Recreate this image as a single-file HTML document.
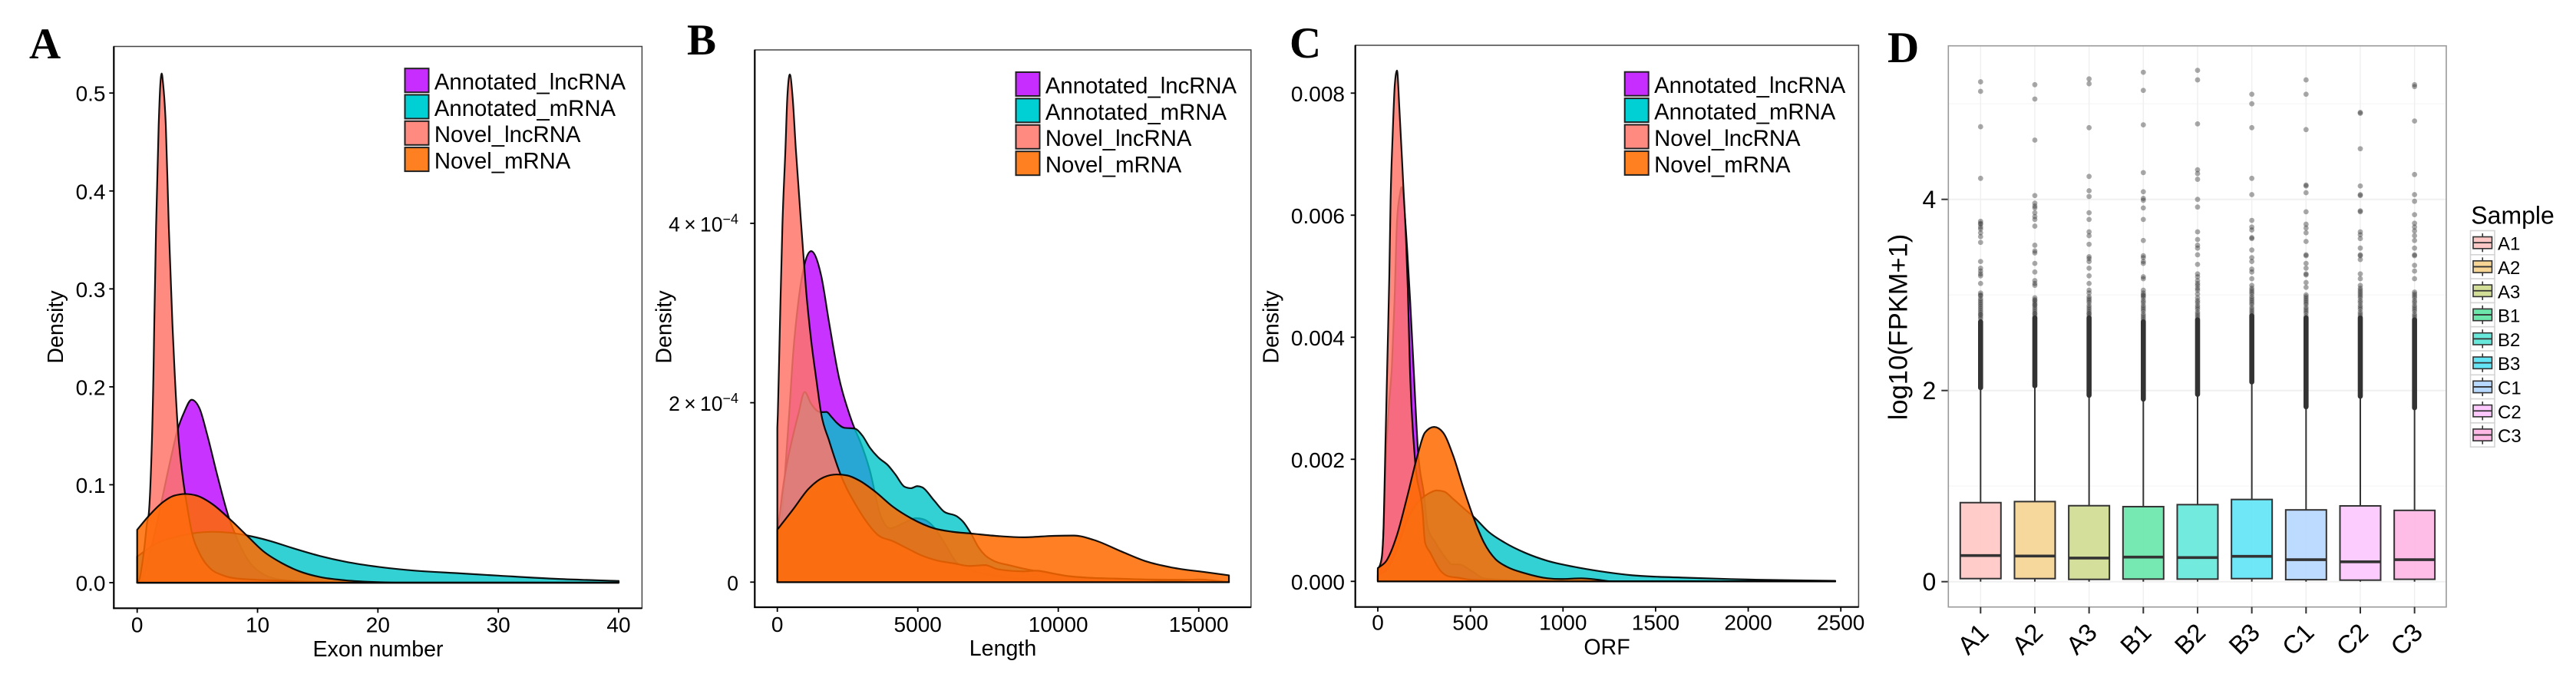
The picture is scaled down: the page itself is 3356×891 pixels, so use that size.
<!DOCTYPE html>
<html lang="en">
<head>
<meta charset="utf-8">
<title>Density and expression charts</title>
<style>
html,body{margin:0;padding:0;background:#fff;}
svg{display:block;font-family:"Liberation Sans",Arial,sans-serif;}
.letter{font-family:"Liberation Serif",serif;font-weight:700;font-size:57px;fill:#000;}
.ttl{font-size:28.6px;fill:#000;}
</style>
</head>
<body>
<svg id="fig" xmlns="http://www.w3.org/2000/svg" width="3356" height="891" viewBox="0 0 3356 891">
  <rect width="3356" height="891" fill="#fff"/>
  <text class="letter" x="38" y="76">A</text>
  <text class="letter" x="895" y="71">B</text>
  <text class="letter" x="1680" y="75">C</text>
  <text class="letter" x="2459" y="81">D</text>
  <text class="ttl" x="492.5" y="855" text-anchor="middle">Exon number</text>
  <text class="ttl" x="1306.5" y="854" text-anchor="middle">Length</text>
  <text class="ttl" x="2093.5" y="852.7" text-anchor="middle">ORF</text>
  <text class="ttl" transform="translate(82 426) rotate(-90)" text-anchor="middle">Density</text>
  <text class="ttl" transform="translate(874.6 426) rotate(-90)" text-anchor="middle">Density</text>
  <text class="ttl" transform="translate(1665.7 426) rotate(-90)" text-anchor="middle">Density</text>
  <text transform="translate(2484.7 426) rotate(-90)" text-anchor="middle" font-size="34.5">log10(FPKM+1)</text>
  <text x="3219.3" y="291.7" font-size="32">Sample</text>
</svg>
<script>
// ---------- shared labels ----------
const seriesNames = ["Annotated_lncRNA", "Annotated_mRNA", "Novel_lncRNA", "Novel_mRNA"];

// ---------- panel A: Exon number vs density ----------
const exonTickX = [0, 10, 20, 30, 40];
const exonTickY = [0, 0.1, 0.2, 0.3, 0.4, 0.5];
const exonTickYLabels = ["0.0", "0.1", "0.2", "0.3", "0.4", "0.5"];
const exonLncAnnX = [0, 0.3, 0.72, 1.47, 2.2, 2.85, 3.38, 3.9, 4.52, 5.18, 5.82, 6.67, 7.63, 8.16, 9.1, 10.3, 12, 15, 20, 40];
const exonLncAnnY = [0, 0.002, 0.015, 0.051, 0.093, 0.13, 0.157, 0.174, 0.1868, 0.178, 0.151, 0.109, 0.066, 0.049, 0.025, 0.01, 0.003, 0.0005, 0, 0];
const exonMrnaAnnX = [0, 1.36, 3.48, 4.97, 6.25, 7.73, 9.1, 10.9, 13, 15.2, 17.3, 20, 22.6, 26.85, 30, 35, 40];
const exonMrnaAnnY = [0.0266, 0.0384, 0.0475, 0.051, 0.052, 0.051, 0.0483, 0.0431, 0.035, 0.0272, 0.0214, 0.0162, 0.0128, 0.0095, 0.0072, 0.0038, 0.0018];
const exonLncNovX = [0, 0.2, 0.4, 0.6, 0.83, 0.96, 1.1, 1.36, 1.42, 1.57, 1.786, 1.93, 2.04, 2.15, 2.38, 2.63, 2.93, 3.1, 3.38, 3.87, 4.15, 4.55, 5.18, 6.03, 7.1, 8.16, 9.86, 12, 14, 20, 40];
const exonLncNovY = [0, 0.004, 0.018, 0.036, 0.062, 0.07, 0.1, 0.2186, 0.264, 0.363, 0.467, 0.51, 0.52, 0.51, 0.467, 0.363, 0.264, 0.2186, 0.157, 0.1, 0.078, 0.051, 0.03, 0.015, 0.0076, 0.0044, 0.003, 0.002, 0.001, 0, 0];
const exonMrnaNovX = [0, 0.93, 2.2, 3.06, 4.02, 4.97, 6.25, 7.73, 9.1, 10.5, 12, 13.5, 15.2, 17.3, 20, 22, 40];
const exonMrnaNovY = [0.054, 0.0677, 0.0828, 0.0888, 0.0906, 0.0888, 0.0802, 0.0645, 0.0483, 0.0319, 0.0201, 0.0115, 0.0057, 0.0024, 0.0005, 0, 0];

// ---------- panel B: Length vs density (density in units of 1e-4) ----------
const lenTickX = [0, 5000, 10000, 15000];
const lenTickY = [0, 2, 4];
const lenTickYBase = ["0", "2\u2009\u00d7\u200910", "4\u2009\u00d7\u200910"];
const lenTickYExp = ["", "\u22124", "\u22124"];
const lenLncAnnX = [0, 100, 270, 426, 563, 746, 973, 1202, 1566, 1839, 2202, 2568, 2750, 2933, 3297, 3661, 4025, 4480, 4936, 5209, 5574, 5938, 6394, 6940, 7851, 9000, 11000, 16075];
const lenLncAnnY = [0.2, 0.5, 1.2, 1.9, 2.55, 3.12, 3.55, 3.69, 3.41, 2.9, 2.27, 1.87, 1.712, 1.58, 1.24, 0.756, 0.6, 0.656, 0.713, 0.7, 0.613, 0.442, 0.214, 0.128, 0.07, 0.03, 0.01, 0];
const lenMrnaAnnX = [0, 36, 200, 412, 519, 746, 973, 1200, 1475, 1585, 1749, 1931, 2113, 2386, 2750, 3024, 3297, 3616, 3934, 4208, 4526, 4754, 4982, 5164, 5574, 5938, 6394, 6621, 6894, 7168, 7395, 7668, 8306, 8761, 9126, 9672, 10219, 11000, 13000, 15000, 16075];
const lenMrnaAnnY = [0.58, 0.64, 1.05, 1.43, 1.58, 1.87, 2.12, 1.99, 1.9, 1.895, 1.897, 1.84, 1.777, 1.72, 1.712, 1.635, 1.498, 1.384, 1.304, 1.198, 1.064, 1.047, 1.07, 1.056, 0.913, 0.785, 0.733, 0.67, 0.542, 0.385, 0.3, 0.243, 0.185, 0.151, 0.128, 0.1, 0.071, 0.05, 0.03, 0.025, 0];
const lenLncNovX = [0, 17, 90, 181, 290, 355, 445, 546, 656, 883, 1019, 1202, 1383, 1566, 1840, 2250, 2477, 2750, 3115, 3570, 4117, 4663, 5118, 5665, 6302, 6849, 7395, 7851, 8761, 9217, 9854, 10264, 11000, 12000, 13000, 14000, 15000, 16075];
const lenLncNovY = [1.72, 1.87, 2.84, 3.98, 4.84, 5.4, 5.66, 5.4, 4.84, 3.84, 3.27, 2.7, 2.27, 1.87, 1.58, 1.2, 1.04, 0.884, 0.7, 0.528, 0.456, 0.37, 0.3, 0.243, 0.208, 0.18, 0.19, 0.143, 0.12, 0.128, 0.094, 0.071, 0.05, 0.04, 0.03, 0.015, 0.03, 0];
const lenMrnaNovX = [0, 565, 1111, 1658, 2113, 2477, 2933, 3479, 4117, 4754, 5574, 6211, 6894, 7851, 8761, 9854, 10555, 11270, 12270, 13125, 14130, 15270, 16075];
const lenMrnaNovY = [0.585, 0.813, 1.04, 1.17, 1.2, 1.19, 1.13, 1.01, 0.84, 0.713, 0.6, 0.562, 0.542, 0.514, 0.5, 0.516, 0.519, 0.47, 0.339, 0.232, 0.158, 0.11, 0.076];

// ---------- panel C: ORF vs density (density in units of 1e-3) ----------
const orfTickX = [0, 500, 1000, 1500, 2000, 2500];
const orfTickY = [0, 2, 4, 6, 8];
const orfTickYLabels = ["0.000", "0.002", "0.004", "0.006", "0.008"];
const orfLncAnnX = [0, 21, 32, 42, 58, 76, 90, 104, 120, 128, 140, 159, 175, 193.5, 218, 249, 269, 311, 366, 400, 435, 504, 573, 800, 1000, 2470];
const orfLncAnnY = [0, 0.3, 0.9, 1.9, 2.8, 3.53, 4.58, 5.92, 6.35, 6.46, 6.2, 5.42, 4.58, 3.49, 2.1, 1.43, 0.89, 0.637, 0.386, 0.28, 0.28, 0.176, 0.05, 0.01, 0, 0];
const orfMrnaAnnX = [0, 50, 100, 159, 221, 269, 318, 359, 407, 463, 525, 601, 684, 794, 918, 1057, 1195, 1374, 1678, 2000, 2470];
const orfMrnaAnnY = [0.1, 0.2, 0.5, 1.01, 1.31, 1.43, 1.49, 1.47, 1.35, 1.2, 1.036, 0.805, 0.637, 0.47, 0.335, 0.24, 0.168, 0.1, 0.059, 0.03, 0.008];
const orfLncNovX = [0, 21, 32, 41, 52.5, 62, 69, 80, 92, 103.6, 117, 138, 152, 162, 173, 200, 242, 255, 283, 338, 380, 435, 504, 700, 1000, 2470];
const orfLncNovY = [0.176, 0.386, 0.97, 2.23, 3.74, 5.0, 6.25, 7.3, 8.15, 8.37, 7.72, 6.47, 5.63, 4.79, 3.53, 2.02, 1.14, 0.637, 0.47, 0.176, 0.084, 0.059, 0.025, 0.01, 0, 0];
const orfMrnaNovX = [0, 48, 104, 159, 214, 255, 304, 352, 407, 463, 518, 573, 635, 697, 794, 918, 987, 1098, 1195, 1264, 1400, 2470];
const orfMrnaNovY = [0.218, 0.344, 0.763, 1.39, 2.06, 2.44, 2.53, 2.44, 2.06, 1.52, 1.036, 0.637, 0.365, 0.239, 0.134, 0.05, 0.038, 0.05, 0.025, 0, 0, 0];

// ---------- panel D: box plots ----------
const sampleNames = ["A1", "A2", "A3", "B1", "B2", "B3", "C1", "C2", "C3"];
const sampleTickY = [0, 2, 4];
const sampleMinorY = [1, 3, 5];
const boxQ1 = [0.032, 0.032, 0.024, 0.027, 0.027, 0.032, 0.021, 0.016, 0.025];
const boxMedian = [0.273, 0.268, 0.247, 0.257, 0.252, 0.265, 0.23, 0.208, 0.23];
const boxQ3 = [0.827, 0.838, 0.795, 0.785, 0.806, 0.86, 0.751, 0.793, 0.746];
const whiskerHigh = [2.03, 2.05, 1.95, 1.91, 1.96, 2.09, 1.83, 1.94, 1.82];
const whiskerLow = [0, 0, 0, 0, 0, 0, 0, 0, 0];
const denseOutlierTop = [2.72, 2.76, 2.76, 2.72, 2.74, 2.78, 2.76, 2.76, 2.74];
const outliersA1 = [5.23, 5.13, 4.76, 4.22, 3.77, 3.75, 3.74, 3.71, 3.69, 3.65, 3.61, 3.55, 3.35, 3.28, 3.25, 3.22, 3.2, 3.12, 3.02, 3.0, 2.99, 2.96, 2.94, 2.92, 2.9, 2.88, 2.86, 2.84, 2.82, 2.8, 2.79, 2.77, 2.75];
const outliersA2 = [5.2, 5.05, 4.62, 4.04, 3.96, 3.93, 3.91, 3.86, 3.82, 3.79, 3.72, 3.52, 3.46, 3.44, 3.33, 3.24, 3.15, 3.12, 3.1, 2.97, 2.95, 2.94, 2.92, 2.9, 2.89, 2.87, 2.85, 2.83, 2.81, 2.8, 2.78];
const outliersA3 = [5.26, 5.21, 4.75, 4.24, 4.09, 4.03, 3.86, 3.79, 3.66, 3.62, 3.53, 3.4, 3.38, 3.35, 3.28, 3.2, 3.12, 3.05, 3.02, 2.98, 2.96, 2.94, 2.92, 2.89, 2.87, 2.85, 2.83, 2.81, 2.8, 2.78];
const outliersB1 = [5.33, 5.14, 4.78, 4.28, 4.08, 4.01, 3.99, 3.91, 3.79, 3.57, 3.41, 3.39, 3.35, 3.33, 3.19, 3.17, 3.05, 3.02, 3.0, 2.99, 2.97, 2.94, 2.92, 2.89, 2.87, 2.85, 2.83, 2.8, 2.78, 2.76, 2.74];
const outliersB2 = [5.35, 5.25, 4.79, 4.31, 4.27, 4.21, 4.0, 3.92, 3.66, 3.58, 3.52, 3.49, 3.42, 3.32, 3.22, 3.19, 3.15, 3.12, 3.1, 3.07, 3.05, 3.01, 2.97, 2.94, 2.92, 2.89, 2.87, 2.85, 2.82, 2.8, 2.78, 2.76];
const outliersB3 = [5.1, 5.0, 4.75, 4.22, 4.05, 3.78, 3.71, 3.68, 3.6, 3.59, 3.47, 3.39, 3.35, 3.27, 3.24, 3.17, 3.1, 3.07, 3.05, 3.03, 3.01, 2.98, 2.96, 2.94, 2.92, 2.9, 2.87, 2.85, 2.83, 2.81, 2.79];
const outliersC1 = [5.25, 5.1, 4.73, 4.15, 4.14, 4.07, 3.87, 3.74, 3.7, 3.65, 3.56, 3.42, 3.41, 3.33, 3.28, 3.22, 3.21, 3.13, 3.08, 3.0, 2.98, 2.96, 2.94, 2.92, 2.9, 2.87, 2.85, 2.83, 2.81, 2.78];
const outliersC2 = [4.91, 4.9, 4.53, 4.14, 4.05, 4.04, 3.88, 3.87, 3.66, 3.63, 3.59, 3.49, 3.42, 3.41, 3.37, 3.22, 3.17, 3.1, 3.07, 3.05, 3.03, 3.01, 2.99, 2.97, 2.94, 2.92, 2.89, 2.87, 2.85, 2.82, 2.8, 2.78];
const outliersC3 = [5.2, 5.18, 4.82, 4.26, 4.05, 3.98, 3.84, 3.75, 3.71, 3.67, 3.62, 3.57, 3.49, 3.42, 3.41, 3.31, 3.25, 3.17, 3.03, 3.01, 2.99, 2.97, 2.94, 2.92, 2.89, 2.87, 2.85, 2.83, 2.8, 2.78, 2.76];
const outlierSets = [outliersA1, outliersA2, outliersA3, outliersB1, outliersB2, outliersB3, outliersC1, outliersC2, outliersC3];
const boxColors = ["#ffc8c5", "#f6d595", "#d2dd95", "#6ce6ab", "#67e8da", "#64e5f6", "#b7d8ff", "#fcc8fe", "#fdb8e5"];

// ---------- helpers ----------
const svg = document.getElementById('fig');
const NS = 'http://www.w3.org/2000/svg';
function mk(tag, attrs, parent) {
  const e = document.createElementNS(NS, tag);
  for (const k in attrs) e.setAttribute(k, attrs[k]);
  (parent || svg).appendChild(e);
  return e;
}
function linear(d0, d1, r0, r1) {
  return function (v) { return r0 + (v - d0) * (r1 - r0) / (d1 - d0); };
}
// monotone cubic interpolation through data knots (no overshoot)
function monotoneSegments(px, py) {
  const n = px.length, m = new Array(n), s = new Array(n - 1);
  for (let i = 0; i < n - 1; i++) s[i] = (py[i + 1] - py[i]) / (px[i + 1] - px[i]);
  for (let i = 1; i < n - 1; i++) {
    if (s[i - 1] * s[i] <= 0) { m[i] = 0; continue; }
    const h0 = px[i] - px[i - 1], h1 = px[i + 1] - px[i];
    const p = (s[i - 1] * h1 + s[i] * h0) / (h0 + h1);
    m[i] = Math.sign(s[i - 1]) * Math.min(Math.abs(s[i - 1]), Math.abs(s[i]), 0.5 * Math.abs(p)) * 2;
  }
  m[0] = s[0];
  m[n - 1] = s[n - 2];
  let d = '';
  for (let i = 0; i < n - 1; i++) {
    const h = (px[i + 1] - px[i]) / 3;
    d += 'C' + (px[i] + h).toFixed(2) + ' ' + (py[i] + m[i] * h).toFixed(2) + ' ' +
      (px[i + 1] - h).toFixed(2) + ' ' + (py[i + 1] - m[i + 1] * h).toFixed(2) + ' ' +
      px[i + 1].toFixed(2) + ' ' + py[i + 1].toFixed(2);
  }
  return d;
}
function densityPath(xs, ys, sx, sy) {
  const px = xs.map(sx), py = ys.map(sy);
  return 'M' + px[0].toFixed(2) + ' ' + sy(0).toFixed(2) + 'L' + px[0].toFixed(2) + ' ' + py[0].toFixed(2) +
    monotoneSegments(px, py) + 'L' + px[px.length - 1].toFixed(2) + ' ' + sy(0).toFixed(2) + 'Z';
}

const densityFills = ["rgb(186,0,255)", "rgb(0,196,201)", "rgb(255,117,106)", "rgb(255,106,0)"];
const densityAlphas = [0.8, 0.8, 0.85, 0.86];
const legendFills = ["#c82dff", "#00d0d4", "#ff8a80", "#ff8020"];

function drawDensityPanel(p) {
  const g = mk('g', {});
  
  
  const sx = linear(p.xd[0], p.xd[1], p.xr[0], p.xr[1]);
  const sy = linear(p.yd[0], p.yd[1], p.yr[0], p.yr[1]);

  const frame = mk('rect', { x: p.left, y: p.top, width: p.right - p.left, height: p.bottom - p.top, fill: '#fff', stroke: '#444', 'stroke-width': 1.5 }, g);
  
  

  p.series.forEach(function (s, i) {
    const a = mk('path', { d: densityPath(s[0], s[1], sx, sy), fill: densityFills[i], 'fill-opacity': densityAlphas[i], stroke: '#000', 'stroke-opacity': 0.92, 'stroke-width': 2.2, 'stroke-linejoin': 'round' }, g);
    
    
  });

  const axisL = mk('line', { x1: p.left, x2: p.left, y1: p.top, y2: p.bottom + 1, stroke: '#000', 'stroke-width': 2.2 }, g);
  
  
  const axisB = mk('line', { x1: p.left - 1, x2: p.right, y1: p.bottom, y2: p.bottom, stroke: '#000', 'stroke-width': 2.2 }, g);
  
  

  p.xTicks.forEach(function (v) {
    const x = sx(v);
    const t = mk('line', { x1: x, x2: x, y1: p.bottom, y2: p.bottom + 6, stroke: '#000', 'stroke-width': 1.8 }, g);
    
    
    const l = mk('text', { x: x, y: p.xLabelY, 'text-anchor': 'middle', 'font-size': 28 }, g);
    l.textContent = String(v);
    
    
  });
  p.yTicks.forEach(function (v, i) {
    const y = sy(v);
    const t = mk('line', { x1: p.left - 6, x2: p.left, y1: y, y2: y, stroke: '#000', 'stroke-width': 1.8 }, g);
    
    
    const l = mk('text', { x: p.yLabelX, y: y + 10.5, 'text-anchor': 'end', 'font-size': p.exp ? 26.5 : 28 }, g);
    
    
    if (p.exp && p.exp[i]) {
      const b = mk('tspan', {}, l);
      b.textContent = p.yLabels[i];
      const e = mk('tspan', { dy: -10, 'font-size': 18 }, l);
      e.textContent = p.exp[i];
    } else {
      l.textContent = p.yLabels[i];
    }
  });

  const lg = mk('g', {}, g);
  
  
  seriesNames.forEach(function (name, i) {
    const y = p.legendTop + i * p.legendStep;
    const r = mk('rect', { x: p.legendX, y: y, width: 31, height: 31, fill: legendFills[i], stroke: '#222', 'stroke-width': 2 }, lg);
    
    
    const t = mk('text', { x: p.legendX + 38.4, y: y + 27.4, 'font-size': 29.3 }, lg);
    t.textContent = name;
    
    
  });
}

drawDensityPanel({
  key: 'a', left: 148.3, right: 836.4, top: 60.5, bottom: 792.3,
  xd: [0, 40], xr: [178.7, 806], yd: [0, 0.5], yr: [759, 121.2],
  xTicks: exonTickX, yTicks: exonTickY, yLabels: exonTickYLabels,
  xLabelY: 823.3, yLabelX: 137.5, legendX: 527.5, legendTop: 89.2, legendStep: 34.3,
  series: [[exonLncAnnX, exonLncAnnY], [exonMrnaAnnX, exonMrnaAnnY], [exonLncNovX, exonLncNovY], [exonMrnaNovX, exonMrnaNovY]]
});
drawDensityPanel({
  key: 'b', left: 983.3, right: 1629.8, top: 65, bottom: 791,
  xd: [0, 15000], xr: [1012.7, 1561.7], yd: [0, 4], yr: [758.3, 290.9],
  xTicks: lenTickX, yTicks: lenTickY, yLabels: lenTickYBase, exp: lenTickYExp,
  xLabelY: 823, yLabelX: 962, legendX: 1323.5, legendTop: 94, legendStep: 34.4,
  series: [[lenLncAnnX, lenLncAnnY], [lenMrnaAnnX, lenMrnaAnnY], [lenLncNovX, lenLncNovY], [lenMrnaNovX, lenMrnaNovY]]
});
drawDensityPanel({
  key: 'c', left: 1765.7, right: 2421.4, top: 59, bottom: 790.7,
  xd: [0, 2500], xr: [1795, 2398.2], yd: [0, 8], yr: [757.3, 121.3],
  xTicks: orfTickX, yTicks: orfTickY, yLabels: orfTickYLabels,
  xLabelY: 820.7, yLabelX: 1752, legendX: 2116.7, legendTop: 93.7, legendStep: 34.4,
  series: [[orfLncAnnX, orfLncAnnY], [orfMrnaAnnX, orfMrnaAnnY], [orfLncNovX, orfLncNovY], [orfMrnaNovX, orfMrnaNovY]]
});

// ---------- panel D drawing ----------
(function () {
  const left = 2538.3, right = 3187, top = 59.7, bottom = 790.7;
  const sy = linear(0, 4, 757.7, 259.7);
  const sx = function (i) { return 2580.3 + i * 70.67; };
  const g = mk('g', {});
  
  

  sampleMinorY.forEach(function (v) {
    const l = mk('line', { x1: left, x2: right, y1: sy(v), y2: sy(v), stroke: '#f7f7f7', 'stroke-width': 1.3 }, g);
    
    
  });
  sampleTickY.forEach(function (v) {
    const l = mk('line', { x1: left, x2: right, y1: sy(v), y2: sy(v), stroke: '#f0f0f0', 'stroke-width': 2 }, g);
    
    
    const t = mk('line', { x1: left - 9, x2: left, y1: sy(v), y2: sy(v), stroke: '#333', 'stroke-width': 2 }, g);
    
    
    const txt = mk('text', { x: left - 16, y: sy(v) + 11.3, 'text-anchor': 'end', 'font-size': 32 }, g);
    txt.textContent = String(v);
    
    
  });
  sampleNames.forEach(function (name, i) {
    const x = sx(i);
    const gl = mk('line', { x1: x, x2: x, y1: top, y2: bottom, stroke: '#f0f0f0', 'stroke-width': 1.5 }, g);
    
    
  });
  const frame = mk('rect', { x: left, y: top, width: right - left, height: bottom - top, fill: 'none', stroke: '#9a9a9a', 'stroke-width': 1.6 }, g);
  
  

  sampleNames.forEach(function (name, i) {
    const x = sx(i), w = 53;
    const bg = mk('g', {}, g);
    
    
    outlierSets[i].forEach(function (v) {
      const c = mk('circle', { cx: x, cy: sy(v), r: 3.4, fill: '#333', 'fill-opacity': 0.42 }, bg);
      
      
    });
    const band = mk('line', { x1: x, x2: x, y1: sy(whiskerHigh[i]), y2: sy(denseOutlierTop[i]), stroke: '#333', 'stroke-width': 6.6, 'stroke-linecap': 'round' }, bg);
    
    
    const wh = mk('line', { x1: x, x2: x, y1: sy(boxQ3[i]), y2: sy(whiskerHigh[i]), stroke: '#333', 'stroke-width': 2 }, bg);
    
    
    const wl = mk('line', { x1: x, x2: x, y1: sy(boxQ1[i]), y2: sy(whiskerLow[i]), stroke: '#333', 'stroke-width': 2 }, bg);
    
    
    const r = mk('rect', { x: x - w / 2, y: sy(boxQ3[i]), width: w, height: sy(boxQ1[i]) - sy(boxQ3[i]), fill: boxColors[i], 'fill-opacity': 0.93, stroke: '#333', 'stroke-width': 2 }, bg);
    
    
    const m = mk('line', { x1: x - w / 2, x2: x + w / 2, y1: sy(boxMedian[i]), y2: sy(boxMedian[i]), stroke: '#333', 'stroke-width': 3.6 }, bg);
    
    
    const t = mk('line', { x1: x, x2: x, y1: bottom, y2: bottom + 8.5, stroke: '#333', 'stroke-width': 2 }, g);
    
    
    const lab = mk('text', { transform: 'translate(' + (x + 12.4) + ' 826) rotate(-45)', 'text-anchor': 'end', 'font-size': 33 }, g);
    lab.textContent = name;
    
    
  });

  // legend
  const lg = mk('g', {});
  
  
  sampleNames.forEach(function (name, i) {
    const y = 300.5 + i * 31.3, x = 3218.5, cw = 31.5, ch = 31.3;
    const key = mk('rect', { x: x, y: y, width: cw, height: ch, fill: '#fff', stroke: '#d4d4d4', 'stroke-width': 1.6 }, lg);
    
    
    const wk = mk('line', { x1: x + cw / 2, x2: x + cw / 2, y1: y + 3.5, y2: y + ch - 3.5, stroke: '#333', 'stroke-width': 1.6 }, lg);
    
    
    const b = mk('rect', { x: x + 3.5, y: y + 8, width: cw - 7, height: ch - 16, fill: boxColors[i], stroke: '#333', 'stroke-width': 1.6 }, lg);
    
    
    const m = mk('line', { x1: x + 3.5, x2: x + cw - 3.5, y1: y + ch / 2, y2: y + ch / 2, stroke: '#333', 'stroke-width': 1.8 }, lg);
    
    
    const t = mk('text', { x: 3254, y: y + 25.2, 'font-size': 24 }, lg);
    t.textContent = name;
    
    
  });
})();
</script>
</body>
</html>
